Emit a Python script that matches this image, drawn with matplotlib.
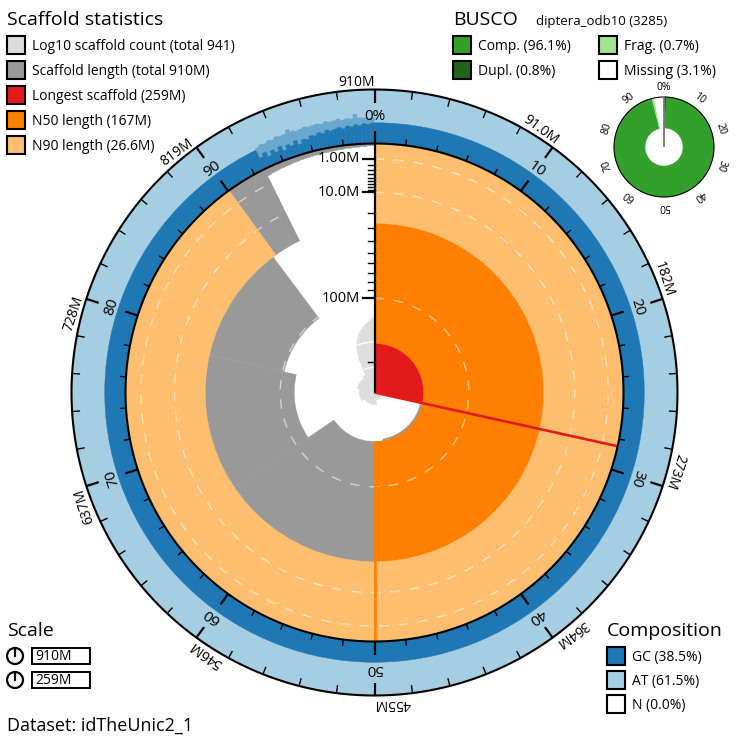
import numpy as np
import matplotlib
matplotlib.use('Agg')
import matplotlib.pyplot as plt
from matplotlib.patches import Wedge, Rectangle, Circle

plt.rcParams['font.family'] = ['Open Sans', 'DejaVu Sans']

# ---------------- data ----------------
dataset_name = 'idTheUnic2_1'
total_length_M = 910
longest_M = 259
n50_M = 167
n90_M = 26.6
scaffold_count = 941
gc_pct = 38.5
at_pct = 61.5
n_pct = 0.0

# largest scaffolds (Mb) in size order
big_scaffolds_M = [259, 170, 167, 119, 102, 26.6]
# remaining small scaffolds, grouped in bins: start (% of assembly), typical length (Mb), cumulative count at bin end
tail_start_pct = [92.7, 93.0, 93.5, 94.0, 94.5, 95.0, 95.5, 96.0, 96.5, 97.0, 97.5, 98.0, 98.5, 99.0, 99.5]
tail_len_M = [0.24, 0.20, 0.17, 0.15, 0.13, 0.11, 0.10, 0.09, 0.08, 0.07, 0.06, 0.05, 0.045, 0.035, 0.02]
tail_cum_count = [15, 35, 60, 95, 135, 180, 230, 290, 360, 430, 510, 590, 670, 780, 941]

# GC variation (min / max %) among small scaffolds
gc_tail_start_pct = [92.75, 93.0, 93.25, 93.5, 93.75, 94.0, 94.25, 94.5, 94.75, 95.0,
                     95.25, 95.5, 95.75, 96.0, 96.25, 96.5, 96.75, 97.0, 97.25, 97.5,
                     97.75, 98.0, 98.25, 98.5, 98.75, 99.0, 99.25, 99.5, 99.75]
gc_tail_lo = [22, 28, 18, 26, 20, 27, 17, 25, 21, 28, 19, 26, 24, 29, 27, 31, 28, 33, 30, 32,
              34, 31, 35, 33, 36, 34, 37, 36, 38]
gc_tail_hi = [42, 45, 43, 46, 44, 47, 45, 46, 52, 47, 45, 46, 48, 46, 47, 48, 46, 49, 47, 48,
              50, 47, 49, 48, 56, 49, 48, 47, 48]

busco_lineage = 'diptera_odb10'
busco_total = 3285
busco_comp = 96.1
busco_dupl = 0.8
busco_frag = 0.7
busco_missing = 3.1

axis_major_M = [1, 10, 100]
axis_major_labels = ['1.00M', '10.0M', '100M']
axis_minor_M = [2, 3, 4, 5, 6, 7, 8, 9, 20, 30, 40, 50, 60, 70, 80, 90, 200]
outer_tick_labels = ['910M', '91.0M', '182M', '273M', '364M', '455M', '546M', '637M', '728M', '819M']
inner_tick_labels = ['0%', '10', '20', '30', '40', '50', '60', '70', '80', '90']
busco_tick_labels = ['0%', '10', '20', '30', '40', '50', '60', '70', '80', '90']

# ---------------- colours ----------------
C_LIGHTGREY = '#dddddd'
C_GREY = '#999999'
C_RED = '#e31a1c'
C_ORANGE = '#ff7f00'
C_PALEORANGE = '#fdbf6f'
C_GC = '#1f78b4'
C_AT = '#a6cee3'
C_COMP = '#33a02c'
C_DUPL = '#20641c'
C_FRAG = '#a3e28f'

# ---------------- geometry ----------------
W = 740
fig = plt.figure(figsize=(7.4, 7.4), dpi=100)
ax = fig.add_axes([0, 0, 1, 1])
ax.set_xlim(0, W)
ax.set_ylim(0, W)
ax.axis('off')

CX, CY = 374.5, W - 392.5
R = 249.0
R_OUT = 303.0
RC = 75.0
PX = 0.72  # points per pixel


def rlen(L):
    return R * (1 - np.sqrt(L / longest_M))


def rcount(c):
    return RC * np.log10(c) / np.log10(scaffold_count)


def pol(a, r, cx=CX, cy=CY):
    t = np.radians(a)
    return cx + r * np.sin(t), cy + r * np.cos(t)


def sector(a1, a2, r_in, r_out, color, cx=CX, cy=CY, z=1, lw=0.3, alpha=1.0):
    if r_out <= r_in:
        return
    width = None if r_in <= 0 else r_out - r_in
    ax.add_patch(Wedge((cx, cy), r_out, 90 - a2, 90 - a1, width=width,
                       facecolor=color, edgecolor=color if alpha == 1.0 else 'none',
                       lw=lw, zorder=z, alpha=alpha))


def arc(a1, a2, r, color, lw, z, ls='-', cx=CX, cy=CY, alpha=1.0):
    t = np.linspace(a1, a2, max(2, int(abs(a2 - a1) * 2)))
    x, y = pol(t, r, cx, cy)
    ax.plot(x, y, color=color, lw=lw, zorder=z, ls=ls, alpha=alpha, solid_capstyle='butt')


def radial(a, r1, r2, color, lw, z, cx=CX, cy=CY):
    x1, y1 = pol(a, r1, cx, cy)
    x2, y2 = pol(a, r2, cx, cy)
    ax.plot([x1, x2], [y1, y2], color=color, lw=lw, zorder=z, solid_capstyle='butt')


# segments: (start %, end %, length, cumulative count)
segs = []
p = 0.0
for i, L in enumerate(big_scaffolds_M):
    q = p + 100.0 * L / total_length_M
    segs.append((p, q, L, i + 1))
    p = q
tail_edges = tail_start_pct + [100.0]
for i, L in enumerate(tail_len_M):
    segs.append((tail_edges[i], tail_edges[i + 1], L, tail_cum_count[i]))

# 1. cumulative count spiral
for s, e, L, c in segs:
    sector(s * 3.6, e * 3.6, 0, rcount(c), C_LIGHTGREY, z=1)
    for cc in (10, 100):
        if c >= cc:
            arc(s * 3.6, e * 3.6, rcount(cc), 'white', 1.0, 1.5)

# 2. scaffold lengths
for s, e, L, c in segs:
    sector(s * 3.6, e * 3.6, rlen(L), R, C_GREY, z=2)

# 3. longest scaffold, N50, N90
sector(0, 100.0 * longest_M / total_length_M * 3.6, 0, R, C_RED, z=3)
sector(0, 50 * 3.6, rlen(n50_M), R, C_ORANGE, z=4)
sector(0, 90 * 3.6, rlen(n90_M), R, C_PALEORANGE, z=5)

# dashed grid circles
for m in axis_major_M:
    arc(0, 360, rlen(m), 'white', 1.0, 6, ls=(0, (7, 7)), alpha=0.55)

radial(100.0 * longest_M / total_length_M * 3.6, 0, R, C_RED, 1.9, 7)
radial(180, rlen(n50_M), R, C_ORANGE, 1.9, 7)
radial(90 * 3.6, rlen(n90_M), R, C_PALEORANGE, 1.9, 7)

# 4. composition ring
wr = R_OUT - R
gc_start = gc_tail_start_pct[0]
sector(0, gc_start * 3.6, R, R + wr * gc_pct / 100, C_GC, z=3)
sector(0, 360, R, R_OUT, C_AT, z=2.5, lw=0)
g_edges = gc_tail_start_pct + [100.0]
for i in range(len(gc_tail_lo)):
    a1, a2 = g_edges[i] * 3.6, g_edges[i + 1] * 3.6
    sector(a1, a2, R, R + wr * gc_tail_lo[i] / 100, C_GC, z=3)
    sector(a1, a2, R + wr * gc_tail_lo[i] / 100, R + wr * gc_tail_hi[i] / 100, C_GC, z=3.2, alpha=0.45)

# circles
arc(0, 360, R, 'black', 1.5, 8)
arc(0, 360, R_OUT, 'black', 1.5, 8)

# ticks on rings
for k in range(50):
    a = k * 7.2
    if k % 5 == 0:
        radial(a, R, R + 13, 'black', 1.6, 8)
        radial(a, R_OUT - 13, R_OUT, 'black', 1.6, 8)
    else:
        radial(a, R, R + 6, 'black', 1.0, 8)
        radial(a, R_OUT - 8, R_OUT, 'black', 1.0, 8)

for k in range(10):
    a = k * 36
    x, y = pol(a, 276)
    ax.text(x, y, inner_tick_labels[k], rotation=-a, rotation_mode='anchor',
            ha='center', va='center', fontsize=11, zorder=9)
    x, y = pol(a, 307)
    ax.text(x, y, outer_tick_labels[k], rotation=-a, rotation_mode='anchor',
            ha='right', va='baseline', fontsize=10, zorder=9)

# 5. radial scale axis
ax.plot([CX, CX], [CY, CY + R], color='black', lw=1.6, zorder=9, solid_capstyle='butt')
for m, lab in zip(axis_major_M, axis_major_labels):
    y = CY + rlen(m)
    ax.plot([CX - 12, CX], [y, y], color='black', lw=1.6, zorder=9)
    ax.text(CX - 15, y, lab, ha='right', va='center', fontsize=10.5, zorder=9)
for m in axis_minor_M:
    y = CY + rlen(m)
    ax.plot([CX - 7, CX], [y, y], color='black', lw=1.0, zorder=9)

# ---------------- BUSCO donut ----------------
BX, BY = 664, W - 147
BR, BRI = 50, 19
segs_b = [(0, busco_dupl, C_DUPL), (busco_dupl, busco_comp, C_COMP),
          (busco_comp, busco_comp + busco_frag, C_FRAG),
          (busco_comp + busco_frag, 100, 'white')]
for s, e, col in segs_b:
    sector(s * 3.6, e * 3.6, BRI, BR, col, cx=BX, cy=BY, z=3)
arc(0, 360, BR, 'black', 0.8, 4, cx=BX, cy=BY)
radial(0, 0, BR, '#777777', 1.3, 5, cx=BX, cy=BY)
for k in range(10):
    a = k * 36
    x, y = pol(a, 60, BX, BY)
    ax.text(x, y, busco_tick_labels[k], rotation=-a, rotation_mode='anchor',
            ha='center', va='center', fontsize=7.5, zorder=9)

# ---------------- legends ----------------
def box(x, ytop, color, size=18):
    ax.add_patch(Rectangle((x, W - ytop - size), size, size, facecolor=color,
                           edgecolor='black', lw=1.5, zorder=10))

ax.text(7, W - 25, 'Scaffold statistics', fontsize=14, ha='left', va='baseline')
leg_items = [(C_LIGHTGREY, 'Log10 scaffold count (total %d)' % scaffold_count),
             (C_GREY, 'Scaffold length (total %dM)' % total_length_M),
             (C_RED, 'Longest scaffold (%dM)' % longest_M),
             (C_ORANGE, 'N50 length (%dM)' % n50_M),
             (C_PALEORANGE, 'N90 length (%.1fM)' % n90_M)]
for i, (col, lab) in enumerate(leg_items):
    yt = 36 + 25 * i
    box(7, yt, col)
    ax.text(32, W - yt - 14, lab, fontsize=10, ha='left', va='baseline')

ax.text(453, W - 25, 'BUSCO', fontsize=14, ha='left', va='baseline')
ax.text(536, W - 25, '%s (%d)' % (busco_lineage, busco_total), fontsize=9.5, ha='left', va='baseline')
busco_leg = [(453, 36, C_COMP, 'Comp. (%.1f%%)' % busco_comp),
             (599, 36, C_FRAG, 'Frag. (%.1f%%)' % busco_frag),
             (453, 61, C_DUPL, 'Dupl. (%.1f%%)' % busco_dupl),
             (599, 61, 'white', 'Missing (%.1f%%)' % busco_missing)]
for x, yt, col, lab in busco_leg:
    box(x, yt, col)
    ax.text(x + 25, W - yt - 14, lab, fontsize=10, ha='left', va='baseline')

ax.text(607, W - 636, 'Composition', fontsize=14, ha='left', va='baseline')
comp_leg = [(C_GC, 'GC (%.1f%%)' % gc_pct), (C_AT, 'AT (%.1f%%)' % at_pct), ('white', 'N (%.1f%%)' % n_pct)]
for i, (col, lab) in enumerate(comp_leg):
    yt = 647 + 24 * i
    box(607, yt, col)
    ax.text(632, W - yt - 14, lab, fontsize=10, ha='left', va='baseline')

ax.text(7, W - 636, 'Scale', fontsize=14, ha='left', va='baseline')
scale_vals = ['%dM' % total_length_M, '%dM' % longest_M]
for i, lab in enumerate(scale_vals):
    cy = W - (656 + 24 * i)
    ax.add_patch(Circle((15, cy), 8, facecolor='none', edgecolor='black', lw=1.6, zorder=10))
    ax.plot([15, 15], [cy, cy + 8], color='black', lw=1.6, zorder=10)
    ax.add_patch(Rectangle((32, cy - 8), 58, 16, facecolor='white', edgecolor='black', lw=1.4, zorder=10))
    ax.text(35, cy - 4.5, lab, fontsize=10, ha='left', va='baseline', zorder=11)

ax.text(7, W - 731, 'Dataset: ' + dataset_name, fontsize=13, ha='left', va='baseline')

fig.savefig('out.png', dpi=100, facecolor='white')
